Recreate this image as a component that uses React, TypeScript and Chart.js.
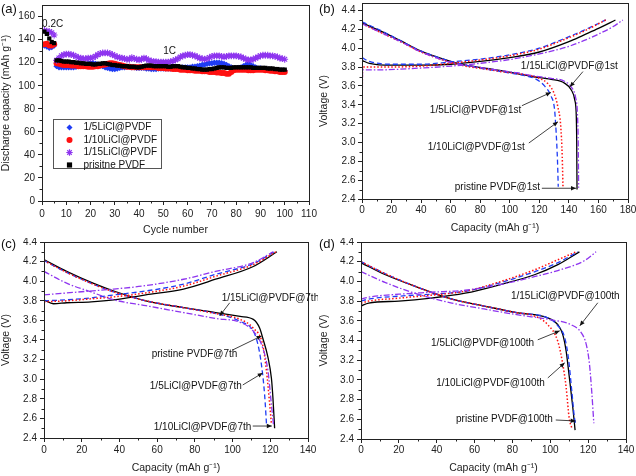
import React, { useEffect, useRef } from 'react';
import { Chart, registerables } from 'chart.js';
Chart.register(...registerables);

const FONT = "'Liberation Sans', Arial, Helvetica, sans-serif";
const AXIS = '#222';
const BLUE = '#1f3cf5';
const RED = '#ff1010';
const PURPLE = '#8e35ef';
const BLACK = '#000000';

type Pt = [number, number];
type Note = { text: string; tx: number; ty: number; fx: number; fy: number; hx: number; hy: number };

// ---------- Panel (a): cycling ----------
const cycleNumbers = Array.from({ length: 100 }, (_, i) => i + 1);
const aPristine = [147, 145, 141, 138, 137,
  122, 122, 121.5, 121, 121,
  121, 120.5, 120.5, 120, 120, 119.5, 119.5, 119, 119, 119,
  118.5, 118.5, 119, 119, 119.5, 119.5, 119, 118.5, 118, 118,
  117.5, 117.5, 117, 117, 117, 116.5, 116.5, 116.5, 116, 116,
  116.5, 117, 117.5, 117.5, 117.5, 117, 117, 117, 117, 117,
  117, 116.5, 116.5, 117, 117, 117, 116.5, 116, 116, 115.5,
  115.5, 115, 115, 114.5, 114.5, 114, 114, 114, 114.5, 114.5,
  115, 115.5, 116, 116, 116, 115.5, 115.5, 115.5, 116, 116,
  116, 116, 116, 116, 116, 116, 115.5, 115.5, 115.5, 115.5,
  115.5, 115.5, 115, 115, 115, 114.5, 114.5, 114, 114, 114];
const aLiCl5 = [135, 134, 133, 133.5, 135,
  117, 116, 116, 116, 116,
  116, 116, 116, 116.5, 117, 117.5, 118, 118.5, 119, 119.5,
  119.5, 119, 118.5, 117.5, 117, 116, 115.5, 115, 114.5, 114.5,
  115, 115.5, 116, 116, 116.5, 116.5, 116, 116, 115.5, 115.5,
  115.5, 115.5, 115, 115, 114.5, 114.5, 114.5, 115, 115, 115,
  115, 115, 115, 115, 115, 115.5, 115.5, 116, 116, 116,
  116, 116.5, 116.5, 117, 117.5, 118, 118.5, 119, 119.5, 119.5,
  120, 120, 120, 119.5, 119, 118, 117, 116, 115, 115,
  115.5, 116, 117, 118, 119, 118, 117, 116, 115, 115,
  114.5, 114.5, 114, 114, 113.5, 113.5, 113, 113, 113, 113];
const aLiCl10 = [136, 136.5, 135, 135, 136,
  119.5, 119, 118.5, 118, 118,
  118, 117.5, 117.5, 117.5, 117, 117, 117, 117, 116.5, 116.5,
  116.5, 117, 117, 117.5, 118, 118.5, 119, 119.5, 119.5, 119,
  118.5, 118, 117.5, 117, 116.5, 116.5, 116, 116, 116, 116,
  116, 116, 116, 116, 116, 116, 116, 115.5, 115.5, 115.5,
  115, 115, 115, 114.5, 114.5, 114.5, 114, 114, 114, 113.5,
  113.5, 113.5, 113, 113, 113, 112.5, 112.5, 112.5, 112, 112,
  112, 111.5, 111.5, 111, 111, 110.5, 110.5, 112, 113.5, 114,
  114, 114, 114, 114, 113.5, 113.5, 113.5, 114, 114, 114,
  114, 113.5, 113.5, 113, 113, 112.5, 112.5, 112, 112, 112];
const aLiCl15 = [148, 147.5, 147, 146, 144,
  122, 124, 126, 127, 127.5,
  127.5, 127, 126.5, 125.5, 124.5, 124, 123.5, 123.5, 124, 124,
  124.5, 125.5, 127, 128, 128.5, 128.5, 128.5, 128, 127, 126,
  125, 124.5, 124, 123.5, 123, 123, 124.5, 123.5, 123, 122.5,
  123, 124, 123.5, 122, 121.5, 121, 121, 120.5, 120.5, 120.5,
  120.5, 120.5, 121, 121.5, 122.5, 123.5, 125, 126, 126.5, 127,
  127, 126.5, 126, 125, 124, 123.5, 123, 123.5, 124.5, 125.5,
  126, 126, 126, 125.5, 125, 125.5, 126, 126, 126, 126,
  125.5, 125, 124, 123, 122.5, 122.5, 123, 124, 125, 126,
  126.5, 126.5, 126.5, 126, 126, 125.5, 125, 124, 123.5, 123];
const aLegendLabels = ['1/5LiCl@PVDF', '1/10LiCl@PVDF', '1/15LiCl@PVDF', 'prisitne PVDF'];

// ---------- Panel (b): 1st cycle ----------
const bPristineChg: Pt[] = [[0, 3.87], [5, 3.84], [20, 3.82], [40, 3.82], [60, 3.83], [80, 3.86], [100, 3.9], [120, 3.96], [140, 4.07], [150, 4.14], [160, 4.21], [171.5, 4.3]];
const bLiCl5Chg: Pt[] = [[0, 3.9], [5, 3.86], [20, 3.83], [40, 3.83], [60, 3.855], [80, 3.885], [100, 3.93], [120, 4.0], [135, 4.09], [150, 4.19], [165, 4.3]];
const bLiCl10Chg: Pt[] = [[0, 3.25], [0.4, 3.8], [10, 3.8], [40, 3.81], [60, 3.84], [80, 3.875], [100, 3.92], [120, 3.99], [135, 4.08], [150, 4.18], [165, 4.3]];
const bLiCl15Chg: Pt[] = [[0, 2.95], [0.4, 3.77], [10, 3.77], [40, 3.79], [60, 3.81], [80, 3.84], [100, 3.88], [120, 3.94], [140, 4.02], [150, 4.08], [160, 4.15], [170, 4.23], [176.5, 4.3]];
const bPristineDis: Pt[] = [[0, 4.27], [15, 4.165], [26, 4.08], [40, 3.97], [50, 3.91], [60, 3.86], [70, 3.82], [83, 3.79], [95, 3.76], [105, 3.73], [115, 3.7], [128, 3.67], [137, 3.63], [141.5, 3.56], [144, 3.45], [145, 3.28], [145.3, 3.0], [145.5, 2.5]];
const bLiCl5Dis: Pt[] = [[0, 4.28], [15, 4.17], [26, 4.08], [40, 3.97], [50, 3.91], [60, 3.86], [70, 3.82], [83, 3.78], [95, 3.75], [110, 3.71], [118, 3.67], [123.5, 3.6], [128, 3.49], [130.3, 3.35], [131.4, 3.1], [132.3, 2.8], [132.8, 2.53]];
const bLiCl10Dis: Pt[] = [[0, 4.26], [15, 4.15], [26, 4.07], [40, 3.96], [50, 3.9], [60, 3.85], [70, 3.81], [83, 3.78], [95, 3.75], [110, 3.72], [120, 3.68], [126, 3.62], [130, 3.52], [132.5, 3.38], [134.5, 3.17], [135.5, 2.85], [136, 2.53]];
const bLiCl15Dis: Pt[] = [[0, 4.26], [15, 4.15], [26, 4.07], [40, 3.96], [50, 3.9], [60, 3.85], [70, 3.82], [83, 3.79], [95, 3.76], [105, 3.74], [115, 3.71], [128, 3.68], [137, 3.65], [142, 3.58], [144.5, 3.48], [145.8, 3.3], [146.3, 3.0], [146.6, 2.52]];
const bNotes: Note[] = [
  { text: '1/15LiCl@PVDF@1st', tx: 107.5, ty: 3.805, fx: 149.5, fy: 3.752, hx: 140.7, hy: 3.59 },
  { text: '1/5LiCl@PVDF@1st', tx: 45.9, ty: 3.347, fx: 108.2, fy: 3.39, hx: 127.8, hy: 3.531 },
  { text: '1/10LiCl@PVDF@1st', tx: 44.5, ty: 2.952, fx: 112.9, fy: 2.994, hx: 132.6, hy: 3.219 },
  { text: 'pristine PVDF@1st', tx: 62.8, ty: 2.52, fx: 121.7, fy: 2.514, hx: 144.8, hy: 2.514 },
];

// ---------- Panel (c): 7th cycle ----------
const cPristineChg: Pt[] = [[0, 3.81], [5, 3.77], [12, 3.78], [25, 3.79], [37, 3.81], [54, 3.86], [74, 3.92], [91, 4.02], [111, 4.15], [123.5, 4.3]];
const cLiCl5Chg: Pt[] = [[0, 3.8], [12, 3.81], [25, 3.83], [37, 3.86], [54, 3.9], [74, 3.97], [91, 4.07], [111, 4.18], [122, 4.3]];
const cLiCl10Chg: Pt[] = [[0, 3.79], [12, 3.8], [25, 3.82], [37, 3.84], [54, 3.88], [74, 3.95], [91, 4.05], [111, 4.17], [123, 4.3]];
const cLiCl15Chg: Pt[] = [[0, 3.86], [12, 3.88], [37, 3.92], [52, 3.95], [74, 4.02], [91, 4.1], [111, 4.19], [121.5, 4.3]];
const cPristineDis: Pt[] = [[0, 4.22], [12, 4.1], [26, 3.98], [37, 3.9], [54, 3.8], [74, 3.73], [91, 3.68], [104, 3.64], [111, 3.61], [114.4, 3.52], [116, 3.42], [118.8, 3.22], [120.6, 3.01], [121.4, 2.81], [122.3, 2.5]];
const cLiCl5Dis: Pt[] = [[0, 4.21], [12, 4.09], [26, 3.97], [37, 3.89], [54, 3.8], [74, 3.73], [91, 3.67], [104, 3.59], [111, 3.49], [113.5, 3.35], [115.3, 3.15], [117, 2.84], [118, 2.54]];
const cLiCl10Dis: Pt[] = [[0, 4.21], [12, 4.09], [26, 3.97], [37, 3.89], [54, 3.8], [74, 3.73], [91, 3.67], [104, 3.61], [111, 3.52], [116, 3.35], [118, 3.08], [119.7, 2.74], [120.6, 2.54]];
const cLiCl15Dis: Pt[] = [[0, 4.1], [12, 3.98], [25, 3.89], [37, 3.81], [54, 3.75], [74, 3.68], [91, 3.62], [104, 3.58], [111, 3.49], [116, 3.32], [118.8, 3.08], [120.6, 2.74], [121.8, 2.52]];
const cNotes: Note[] = [
  { text: '1/15LiCl@PVDF@7th', tx: 94.2, ty: 3.831, fx: 98.5, fy: 3.78, hx: 93.2, hy: 3.647 },
  { text: 'pristine PVDF@7th', tx: 57.1, ty: 3.258, fx: 100.1, fy: 3.299, hx: 115.4, hy: 3.442 },
  { text: '1/5LiCl@PVDF@7th', tx: 56.1, ty: 2.931, fx: 105.4, fy: 2.941, hx: 116, hy: 3.064 },
  { text: '1/10LiCl@PVDF@7th', tx: 58.2, ty: 2.512, fx: 110.7, fy: 2.522, hx: 120.8, hy: 2.522 },
];

// ---------- Panel (d): 100th cycle ----------
const dPristineChg: Pt[] = [[0, 3.75], [4, 3.78], [20, 3.8], [37, 3.83], [55, 3.88], [74, 3.97], [92, 4.07], [104, 4.17], [115.4, 4.3]];
const dLiCl5Chg: Pt[] = [[0, 3.8], [4, 3.82], [20, 3.85], [37, 3.87], [55, 3.9], [74, 3.99], [92, 4.1], [104, 4.19], [114.5, 4.3]];
const dLiCl10Chg: Pt[] = [[0, 3.78], [4, 3.8], [20, 3.83], [37, 3.86], [55, 3.9], [74, 4.0], [92, 4.12], [104, 4.22], [113.6, 4.3]];
const dLiCl15Chg: Pt[] = [[0, 3.82], [4, 3.84], [20, 3.87], [37, 3.89], [55, 3.91], [74, 3.97], [92, 4.05], [104, 4.11], [118, 4.21], [124.2, 4.3]];
const dPristineDis: Pt[] = [[0, 4.19], [12.6, 4.07], [30, 3.94], [48, 3.82], [65, 3.75], [83, 3.68], [98.7, 3.63], [104, 3.56], [106.6, 3.46], [108.4, 3.29], [110.1, 3.02], [111.9, 2.72], [113.1, 2.49]];
const dLiCl5Dis: Pt[] = [[0, 4.2], [12.6, 4.08], [30, 3.94], [48, 3.82], [65, 3.75], [83, 3.68], [98.7, 3.63], [104, 3.55], [107.6, 3.43], [109.6, 3.22], [111.4, 2.88], [112.8, 2.61], [113.5, 2.55]];
const dLiCl10Dis: Pt[] = [[0, 4.2], [12.6, 4.08], [30, 3.94], [48, 3.82], [65, 3.75], [83, 3.68], [90, 3.66], [98.7, 3.56], [104, 3.39], [106.6, 3.16], [108.4, 2.92], [110, 2.61], [111.4, 2.51]];
const dLiCl15Dis: Pt[] = [[0, 4.1], [12.6, 3.99], [30, 3.87], [48, 3.78], [65, 3.72], [83, 3.66], [100.5, 3.61], [111, 3.56], [116.3, 3.48], [119, 3.36], [120.7, 3.16], [121.9, 2.88], [123, 2.56]];
const dNotes: Note[] = [
  { text: '1/15LiCl@PVDF@100th', tx: 79.2, ty: 3.854, fx: 125.1, fy: 3.783, hx: 115.6, hy: 3.549 },
  { text: '1/5LiCl@PVDF@100th', tx: 37.0, ty: 3.376, fx: 93.4, fy: 3.407, hx: 105, hy: 3.498 },
  { text: '1/10LiCl@PVDF@100th', tx: 39.7, ty: 2.969, fx: 98.7, fy: 3.02, hx: 107.6, hy: 3.173 },
  { text: 'pristine PVDF@100th', tx: 50.2, ty: 2.603, fx: 102.9, fy: 2.593, hx: 113.4, hy: 2.583 },
];

// ---------- helpers ----------
Chart.defaults.font.family = FONT;
Chart.defaults.color = AXIS;

const STYLE = {
  pristine: { color: BLACK, dash: [] as number[], width: 1.3 },
  l5: { color: BLUE, dash: [5, 3], width: 1.3 },
  l10: { color: RED, dash: [1.5, 2], width: 1.5 },
  l15: { color: PURPLE, dash: [6, 2, 1.5, 2], width: 1.3 },
};

function lineDs(data: Pt[], st: { color: string; dash: number[]; width: number }) {
  return {
    data: data.map(([x, y]) => ({ x, y })),
    borderColor: st.color,
    backgroundColor: st.color,
    borderDash: st.dash,
    borderWidth: st.width,
    pointRadius: 0,
    showLine: true,
    fill: false,
    cubicInterpolationMode: 'monotone' as const,
  };
}

function drawMarker(ctx: CanvasRenderingContext2D, kind: string, x: number, y: number, r: number, color: string) {
  ctx.save();
  ctx.fillStyle = color;
  ctx.strokeStyle = color;
  ctx.beginPath();
  if (kind === 'diamond') {
    ctx.moveTo(x, y - r); ctx.lineTo(x + r, y); ctx.lineTo(x, y + r); ctx.lineTo(x - r, y); ctx.closePath(); ctx.fill();
  } else if (kind === 'circle') {
    ctx.arc(x, y, r, 0, Math.PI * 2); ctx.fill();
  } else if (kind === 'star') {
    ctx.lineWidth = 1.2;
    for (let k = 0; k < 4; k++) {
      const a = (k * Math.PI) / 4;
      ctx.moveTo(x - Math.cos(a) * r, y - Math.sin(a) * r);
      ctx.lineTo(x + Math.cos(a) * r, y + Math.sin(a) * r);
    }
    ctx.stroke();
  } else {
    ctx.fillRect(x - r, y - r, 2 * r, 2 * r);
  }
  ctx.restore();
}

type Spec = {
  label: string;
  labelY: number;
  notes: Note[];
  texts?: { text: string; x: number; y: number }[];
  legend?: { x: number; y: number; w: number; h: number; items: { kind: string; color: string; text: string }[] };
};

function decor(spec: Spec) {
  return {
    id: 'decor',
    afterDraw(chart: any) {
      const { ctx, chartArea: ca, scales } = chart;
      const xs = scales.x, ys = scales.y;
      ctx.save();
      ctx.strokeStyle = AXIS;
      ctx.lineWidth = 1;
      // minor ticks
      ctx.beginPath();
      const xt = xs.ticks.map((t: any) => t.value);
      for (let i = 0; i < xt.length - 1; i++) {
        const p = Math.round(xs.getPixelForValue((xt[i] + xt[i + 1]) / 2)) + 0.5;
        ctx.moveTo(p, ca.bottom); ctx.lineTo(p, ca.bottom + 2.5);
      }
      const yt = ys.ticks.map((t: any) => t.value);
      for (let i = 0; i < yt.length - 1; i++) {
        const p = Math.round(ys.getPixelForValue((yt[i] + yt[i + 1]) / 2)) + 0.5;
        ctx.moveTo(ca.left, p); ctx.lineTo(ca.left - 2.5, p);
      }
      ctx.stroke();
      // frame
      ctx.strokeRect(Math.round(ca.left) + 0.5, Math.round(ca.top) + 0.5, Math.round(ca.right - ca.left), Math.round(ca.bottom - ca.top));
      // panel label
      ctx.fillStyle = '#111';
      ctx.font = `13px ${FONT}`;
      ctx.textAlign = 'left';
      ctx.textBaseline = 'middle';
      ctx.fillText(spec.label, 1, spec.labelY);
      // annotations
      ctx.font = `10px ${FONT}`;
      for (const n of spec.notes) {
        ctx.fillStyle = '#111';
        ctx.fillText(n.text, xs.getPixelForValue(n.tx), ys.getPixelForValue(n.ty));
        const x1 = xs.getPixelForValue(n.fx), y1 = ys.getPixelForValue(n.fy);
        const x2 = xs.getPixelForValue(n.hx), y2 = ys.getPixelForValue(n.hy);
        ctx.strokeStyle = '#111';
        ctx.lineWidth = 0.8;
        ctx.beginPath(); ctx.moveTo(x1, y1); ctx.lineTo(x2, y2); ctx.stroke();
        const ang = Math.atan2(y2 - y1, x2 - x1);
        const L = 5, W = 2.2;
        ctx.beginPath();
        ctx.moveTo(x2, y2);
        ctx.lineTo(x2 - L * Math.cos(ang) + W * Math.sin(ang), y2 - L * Math.sin(ang) - W * Math.cos(ang));
        ctx.lineTo(x2 - L * Math.cos(ang) - W * Math.sin(ang), y2 - L * Math.sin(ang) + W * Math.cos(ang));
        ctx.closePath();
        ctx.fillStyle = '#111';
        ctx.fill();
      }
      if (spec.texts) {
        ctx.textAlign = 'center';
        for (const t of spec.texts) {
          ctx.fillText(t.text, xs.getPixelForValue(t.x), ys.getPixelForValue(t.y));
        }
        ctx.textAlign = 'left';
      }
      if (spec.legend) {
        const lg = spec.legend;
        const lx = Math.round(xs.getPixelForValue(lg.x)) + 0.5;
        const ly = Math.round(ys.getPixelForValue(lg.y)) + 0.5;
        ctx.fillStyle = '#fff';
        ctx.fillRect(lx, ly, lg.w, lg.h);
        ctx.strokeStyle = '#555';
        ctx.lineWidth = 1;
        ctx.strokeRect(lx, ly, lg.w, lg.h);
        const rowH = 12.5;
        lg.items.forEach((it, i) => {
          const cy = ly + 8 + i * rowH;
          drawMarker(ctx, it.kind, lx + 16, cy, it.kind === 'star' ? 3.2 : it.kind === 'square' ? 2.6 : 3, it.color);
          ctx.fillStyle = '#111';
          ctx.fillText(it.text, lx + 30, cy);
        });
      }
      ctx.restore();
    },
  };
}

function zeroPad(s: any) {
  s.paddingTop = 0; s.paddingBottom = 0; s.paddingLeft = 0; s.paddingRight = 0;
}

function scalesFor(o: {
  xMin: number; xMax: number; xStep: number; yMin: number; yMax: number; yStep: number;
  xTitle: string; yTitle: string; yW: number; xH: number; xPad: number; yPad: number; xTitlePad: number; dec: number;
}) {
  const grid = { display: true, drawOnChartArea: false, drawTicks: true, tickLength: 4, color: AXIS, lineWidth: 1 };
  return {
    x: {
      type: 'linear' as const,
      min: o.xMin, max: o.xMax,
      grid,
      border: { display: true, color: AXIS },
      ticks: { stepSize: o.xStep, includeBounds: false, padding: o.xPad, maxRotation: 0, autoSkip: false, font: { size: 10 }, color: AXIS },
      title: { display: true, text: o.xTitle, font: { size: 10.5 }, color: AXIS, padding: { top: 0, bottom: o.xTitlePad } },
      afterFit: (s: any) => { s.height = o.xH; zeroPad(s); },
    },
    y: {
      type: 'linear' as const,
      min: o.yMin, max: o.yMax,
      grid,
      border: { display: true, color: AXIS },
      ticks: {
        stepSize: o.yStep, includeBounds: false, padding: o.yPad, autoSkip: false, font: { size: 10 }, color: AXIS,
        callback: (v: number) => v.toFixed(o.dec),
      },
      title: { display: true, text: o.yTitle, font: { size: 10.5 }, color: AXIS, padding: { top: 0, bottom: 0 } },
      afterFit: (s: any) => { s.width = o.yW; zeroPad(s); },
    },
  };
}

const baseOpts = (padding: any, scales: any) => ({
  responsive: false,
  animation: false as const,
  layout: { padding },
  plugins: { legend: { display: false }, tooltip: { enabled: false }, title: { display: false } },
  scales,
});

function configA() {
  const pts = (vals: number[]) => vals.map((v, i) => ({ x: cycleNumbers[i], y: v }));
  return {
    type: 'scatter' as const,
    data: {
      datasets: [
        { label: aLegendLabels[0], data: pts(aLiCl5), pointStyle: 'rectRot', pointRadius: 3.2, backgroundColor: BLUE, borderColor: BLUE, borderWidth: 0, order: 3 },
        { label: aLegendLabels[1], data: pts(aLiCl10), pointStyle: 'circle', pointRadius: 3, backgroundColor: RED, borderColor: RED, borderWidth: 0, order: 2 },
        { label: aLegendLabels[2], data: pts(aLiCl15), pointStyle: 'star', pointRadius: 3.4, backgroundColor: PURPLE, borderColor: PURPLE, borderWidth: 1.1, order: 1 },
        { label: aLegendLabels[3], data: pts(aPristine), pointStyle: 'rect', pointRadius: 3, backgroundColor: BLACK, borderColor: BLACK, borderWidth: 0, order: 0 },
      ],
    },
    options: baseOpts({ left: 0, top: 2, right: 9, bottom: 0 }, scalesFor({
      xMin: 0, xMax: 110, xStep: 10, yMin: 0, yMax: 170, yStep: 20,
      xTitle: 'Cycle number', yTitle: 'Discharge capacity (mAh g⁻¹)', yW: 42, xH: 37, xPad: 3, yPad: 3, xTitlePad: 2, dec: 0,
    })),
    plugins: [decor({
      label: '(a)', labelY: 9, notes: [],
      texts: [{ text: '0.2C', x: 4.4, y: 153.4 }, { text: '1C', x: 52.6, y: 129.6 }],
      legend: {
        x: 4.7, y: 71.4, w: 108, h: 49,
        items: [
          { kind: 'diamond', color: BLUE, text: aLegendLabels[0] },
          { kind: 'circle', color: RED, text: aLegendLabels[1] },
          { kind: 'star', color: PURPLE, text: aLegendLabels[2] },
          { kind: 'square', color: BLACK, text: aLegendLabels[3] },
        ],
      },
    })],
  };
}

function configCurves(sets: { chg: Pt[]; dis: Pt[]; st: any }[], label: string, notes: Note[], o: any, padding: any, labelY: number) {
  const datasets: any[] = [];
  sets.forEach((s) => { datasets.push(lineDs(s.chg, s.st)); datasets.push(lineDs(s.dis, s.st)); });
  return {
    type: 'scatter' as const,
    data: { datasets },
    options: baseOpts(padding, scalesFor(o)),
    plugins: [decor({ label, labelY, notes })],
  };
}

const VT = 'Voltage (V)';
const CT = 'Capacity (mAh g⁻¹)';

function configB() {
  return configCurves([
    { chg: bLiCl15Chg, dis: bLiCl15Dis, st: STYLE.l15 },
    { chg: bLiCl10Chg, dis: bLiCl10Dis, st: STYLE.l10 },
    { chg: bLiCl5Chg, dis: bLiCl5Dis, st: STYLE.l5 },
    { chg: bPristineChg, dis: bPristineDis, st: STYLE.pristine },
  ], '(b)', bNotes, {
    xMin: 0, xMax: 180, xStep: 20, yMin: 2.4, yMax: 4.48, yStep: 0.2,
    xTitle: CT, yTitle: VT, yW: 44, xH: 39, xPad: 1, yPad: 2.5, xTitlePad: 4, dec: 1,
  }, { left: 0, top: 3, right: 8, bottom: 0 }, 9);
}
function configC() {
  return configCurves([
    { chg: cLiCl15Chg, dis: cLiCl15Dis, st: STYLE.l15 },
    { chg: cLiCl10Chg, dis: cLiCl10Dis, st: STYLE.l10 },
    { chg: cLiCl5Chg, dis: cLiCl5Dis, st: STYLE.l5 },
    { chg: cPristineChg, dis: cPristineDis, st: STYLE.pristine },
  ], '(c)', cNotes, {
    xMin: 0, xMax: 140, xStep: 20, yMin: 2.4, yMax: 4.4, yStep: 0.2,
    xTitle: CT, yTitle: VT, yW: 44, xH: 38, xPad: 2, yPad: 3, xTitlePad: 2, dec: 1,
  }, { left: 0, top: 4, right: 10, bottom: 0 }, 6);
}
function configD() {
  return configCurves([
    { chg: dLiCl15Chg, dis: dLiCl15Dis, st: STYLE.l15 },
    { chg: dLiCl10Chg, dis: dLiCl10Dis, st: STYLE.l10 },
    { chg: dLiCl5Chg, dis: dLiCl5Dis, st: STYLE.l5 },
    { chg: dPristineChg, dis: dPristineDis, st: STYLE.pristine },
  ], '(d)', dNotes, {
    xMin: 0, xMax: 140, xStep: 20, yMin: 2.4, yMax: 4.4, yStep: 0.2,
    xTitle: CT, yTitle: VT, yW: 43, xH: 37, xPad: 1, yPad: 3, xTitlePad: 2, dec: 1,
  }, { left: 0, top: 4, right: 10, bottom: 0 }, 6);
}

function Panel({ left, top, make }: { left: number; top: number; make: () => any }) {
  const ref = useRef<HTMLCanvasElement>(null);
  useEffect(() => {
    const chart = new Chart(ref.current as HTMLCanvasElement, make());
    return () => chart.destroy();
  }, []);
  return (
    <div style={{ position: 'absolute', left, top, width: 318, height: 238 }}>
      <canvas ref={ref} width={318} height={238} style={{ width: 318, height: 238, display: 'block' }} />
    </div>
  );
}

export default function App() {
  return (
    <div style={{ position: 'fixed', left: 0, top: 0, width: 636, height: 476, background: '#fff', overflow: 'hidden' }}>
      <Panel left={0} top={0} make={configA} />
      <Panel left={318} top={0} make={configB} />
      <Panel left={0} top={238} make={configC} />
      <Panel left={318} top={238} make={configD} />
    </div>
  );
}
